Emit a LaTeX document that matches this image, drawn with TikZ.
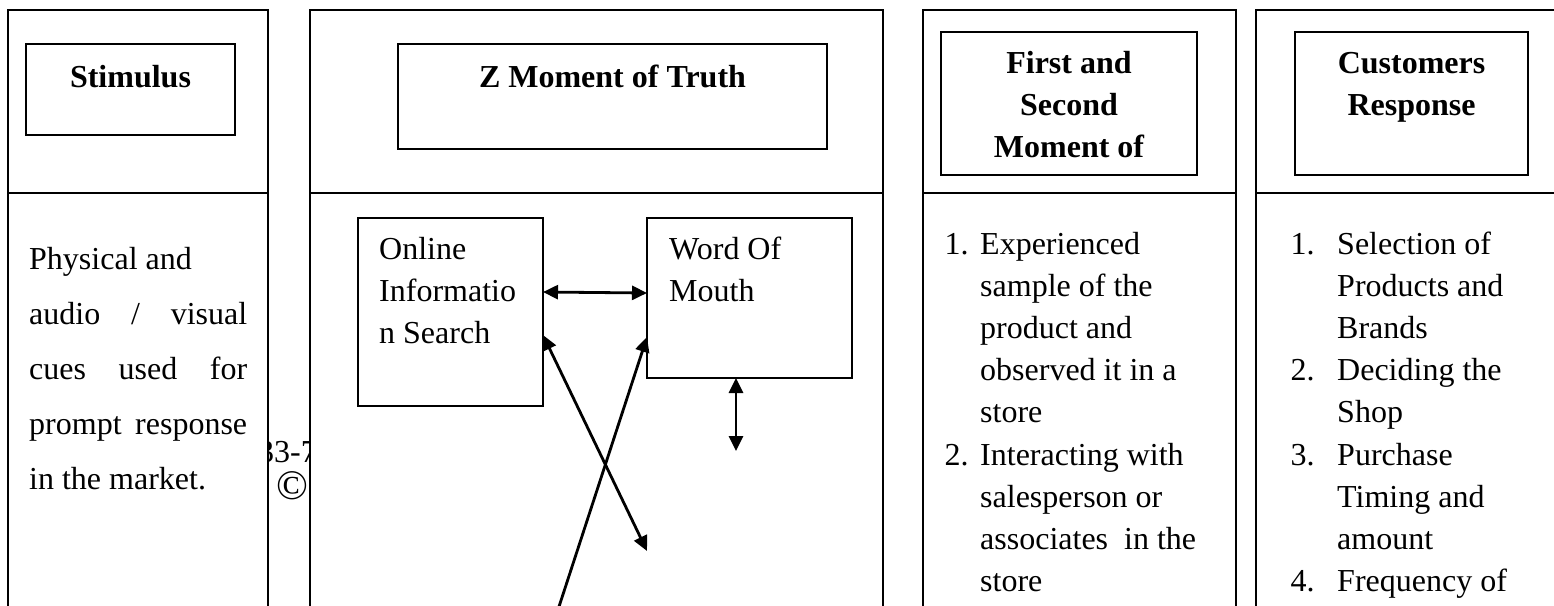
\documentclass[tikz,border=0pt]{standalone}
\usepackage{fontspec}
\setmainfont{Liberation Serif}
\usetikzlibrary{arrows.meta}
\begin{document}
\begin{tikzpicture}[x=1pt,y=-1pt,
  col/.style={draw=black,line width=1.8pt,fill=white},
  framebox/.style={draw=black,line width=1.8pt,anchor=north west,inner sep=0pt,outer sep=0pt},
  txt/.style={anchor=base west,inner sep=0pt,font=\fontsize{32}{42}\selectfont},
  hd/.style={anchor=base,inner sep=0pt,font=\fontsize{32}{42}\selectfont\bfseries},
  dblarrow/.style={line width=2.8pt,{Triangle[length=15pt,width=14pt]}-{Triangle[length=15pt,width=14pt]}},
  onearrow/.style={line width=2.8pt,-{Triangle[length=15pt,width=14pt]}}
]
\useasboundingbox (0,0) rectangle (1554,605);
\fill[white] (0,0) rectangle (1554,605);

% watermark behind the columns
\node[txt] (wm) at (258,462) {33-7};
\node[anchor=base,inner sep=0pt,font=\fontsize{42}{42}\selectfont] (wmc) at (292,499) {\textcopyright};

% columns
\draw[col] (8,10) rectangle (268,625);
\draw[line width=1.8pt] (8,193) -- (268,193);
\draw[col] (310,10) rectangle (883,625);
\draw[line width=1.8pt] (310,193) -- (883,193);
\draw[col] (923,10) rectangle (1236,625);
\draw[line width=1.8pt] (923,193) -- (1236,193);
\draw[col] (1256,10) rectangle (1575,625);
\draw[line width=1.8pt] (1256,193) -- (1575,193);

% header boxes
\node[framebox,minimum width=209pt,minimum height=91pt] (stim) at (26,44) {};
\node[hd] (stimt) at (130.5,87) {Stimulus};

\node[framebox,minimum width=429pt,minimum height=105pt] (zmot) at (398,44) {};
\node[hd] (zmott) at (612.5,87) {Z Moment of Truth};

\node[framebox,minimum width=256pt,minimum height=143pt] (fsm) at (941,32) {};
\node[hd] (fsm1) at (1069,73) {First and};
\node[hd] (fsm2) at (1069,115) {Second};
\node[hd] (fsm3) at (1069,157) {Moment of};

\node[framebox,minimum width=233pt,minimum height=143pt] (cr) at (1295,32) {};
\node[hd] (cr1) at (1411.5,73) {Customers};
\node[hd] (cr2) at (1411.5,115) {Response};

% column 1 text
\node[txt] (s1) at (29,269) {Physical and};
\node[txt] (s2) at (29,324) {\makebox[218pt][s]{audio / visual}};
\node[txt] (s3) at (29,379) {\makebox[218pt][s]{cues used for}};
\node[txt] (s4) at (29,434) {\makebox[218pt][s]{prompt response}};
\node[txt] (s5) at (29,489) {in the market.};

% column 2 boxes
\node[framebox,minimum width=185pt,minimum height=188pt] (online) at (358,218) {};
\node[txt] (on1) at (379,259) {Online};
\node[txt] (on2) at (379,301) {Informatio};
\node[txt] (on3) at (379,343) {n Search};

\node[framebox,minimum width=205pt,minimum height=160pt] (word) at (647,218) {};
\node[txt] (wo1) at (669,259) {Word Of};
\node[txt] (wo2) at (669,301) {Mouth};

\coordinate (d1end) at (647,551);
\coordinate (d2start) at (553,625);
\coordinate (vend) at (736,451);

\draw[dblarrow] ([yshift=20pt]online.east) -- ([yshift=5pt]word.west);
\draw[dblarrow] ([yshift=-23pt]online.east) -- (d1end);
\draw[onearrow] (d2start) -- ([yshift=-39pt]word.west);
\draw[dblarrow] ([xshift=-13.5pt]word.south) -- (vend);

% column 3 list
\node[txt] (a1n) at (944.5,254) {1.};
\node[txt] (a1a) at (980,254) {Experienced};
\node[txt] (a1b) at (980,296) {sample of the};
\node[txt] (a1c) at (980,338) {product and};
\node[txt] (a1d) at (980,380) {observed it in a};
\node[txt] (a1e) at (980,422) {store};
\node[txt] (a2n) at (944.5,465) {2.};
\node[txt] (a2a) at (980,465) {Interacting with};
\node[txt] (a2b) at (980,507) {salesperson or};
\node[txt] (a2c) at (980,549) {associates\ \ in the};
\node[txt] (a2d) at (980,591) {store};

% column 4 list
\node[txt] (b1n) at (1290.5,254) {1.};
\node[txt] (b1a) at (1337,254) {Selection of};
\node[txt] (b1b) at (1337,296) {Products and};
\node[txt] (b1c) at (1337,338) {Brands};
\node[txt] (b2n) at (1290.5,380) {2.};
\node[txt] (b2a) at (1337,380) {Deciding the};
\node[txt] (b2b) at (1337,422) {Shop};
\node[txt] (b3n) at (1290.5,465) {3.};
\node[txt] (b3a) at (1337,465) {Purchase};
\node[txt] (b3b) at (1337,507) {Timing and};
\node[txt] (b3c) at (1337,549) {amount};
\node[txt] (b4n) at (1290.5,591) {4.};
\node[txt] (b4a) at (1337,591) {Frequency of};
\end{tikzpicture}
\end{document}
